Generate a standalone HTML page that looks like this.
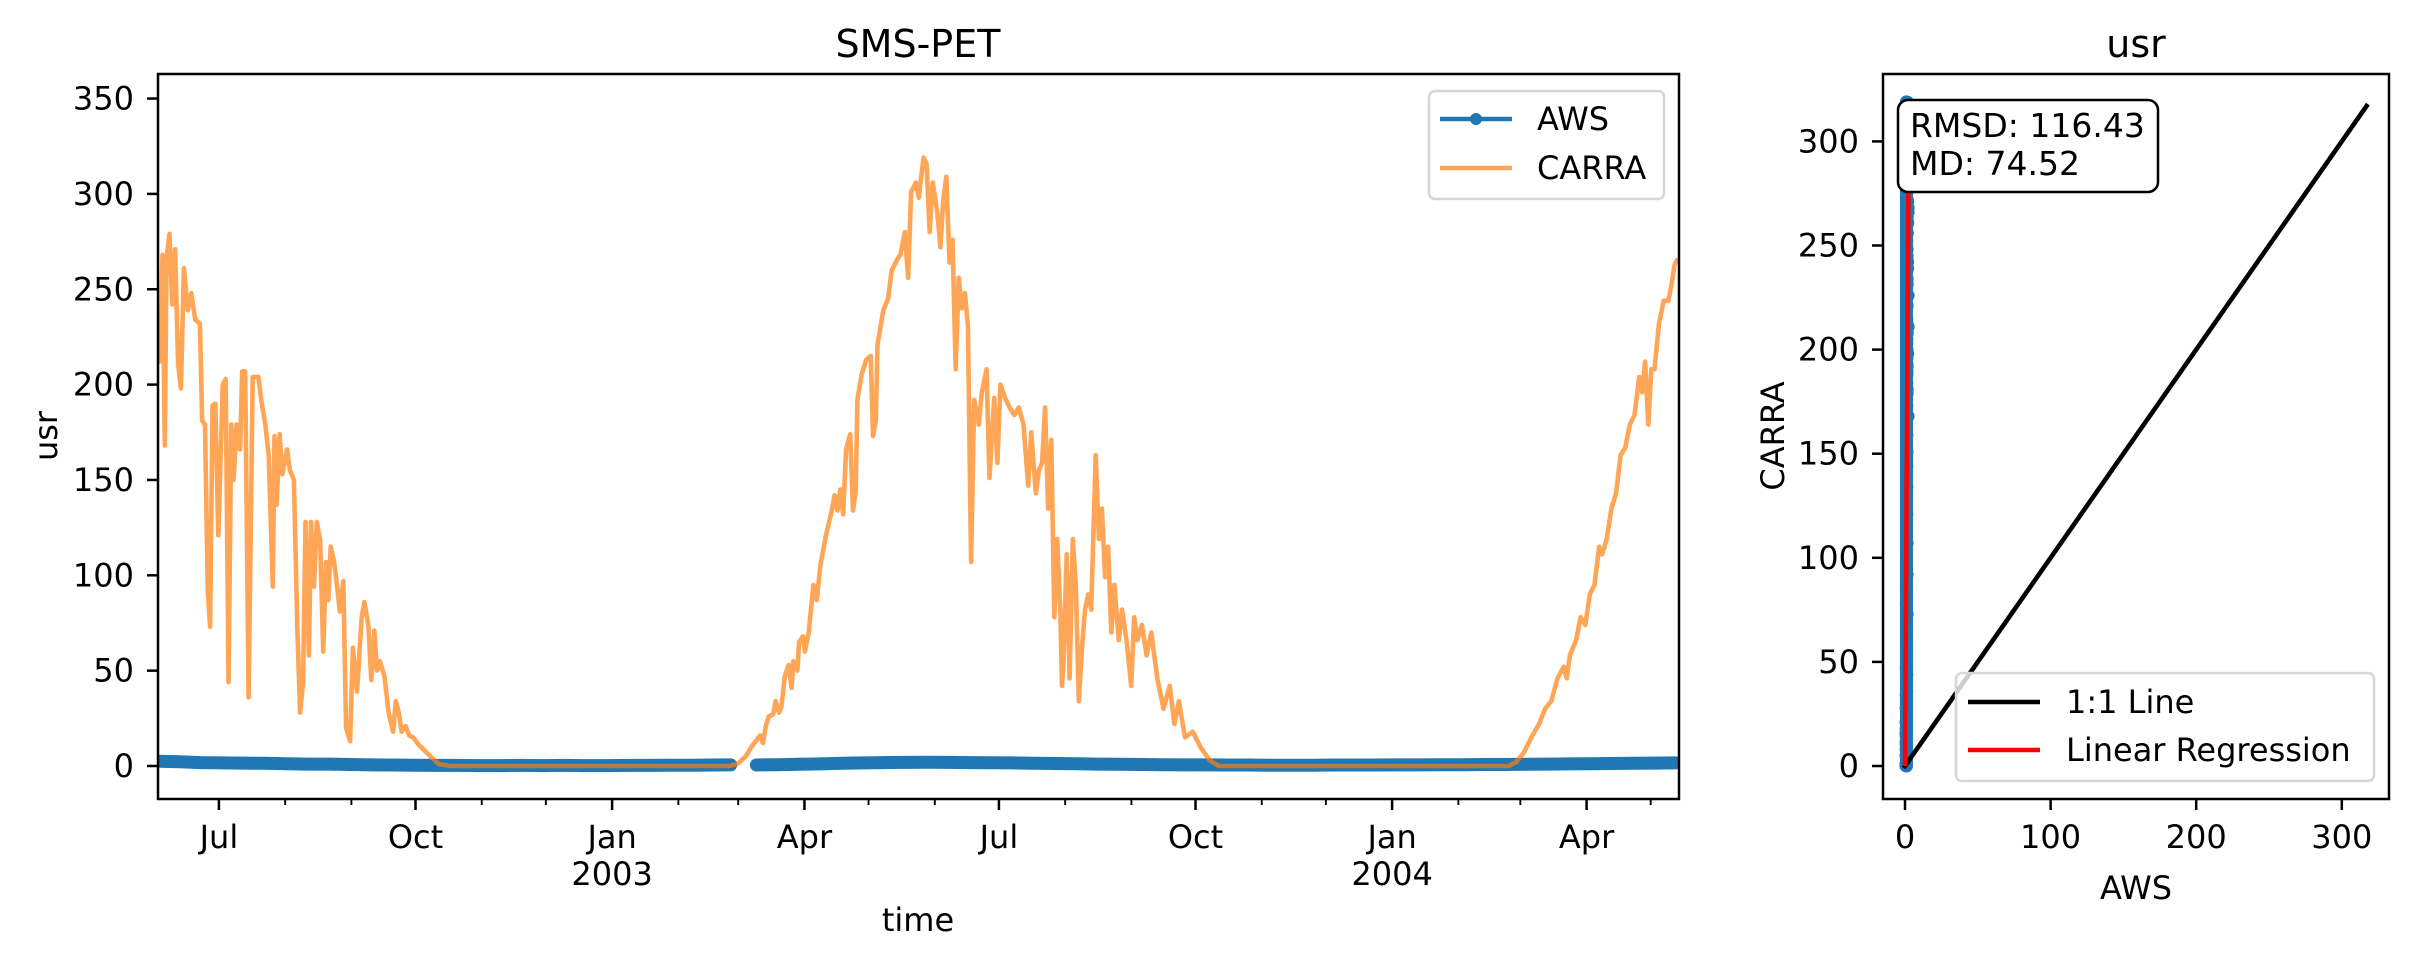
<!DOCTYPE html>
<html><head><meta charset="utf-8"><style>
html,body{margin:0;padding:0;background:#fff;}
svg text{font-family:"DejaVu Sans","Liberation Sans",sans-serif;fill:#000;}
</style></head><body>
<svg id="chart" width="2413" height="964" viewBox="0 0 2413 964" xmlns="http://www.w3.org/2000/svg">
<defs>
<clipPath id="clipL"><rect x="158" y="74" width="1521" height="725"/></clipPath>
<clipPath id="clipR"><rect x="1883" y="74" width="506" height="725"/></clipPath>
</defs>
<rect x="0" y="0" width="2413" height="964" fill="#fff"/>
<g id="left"></g>
<g id="right"></g>
</svg>
<script>
// ---- data ----
const carraDays = [0.5,1.3,2.1,3.2,4.0,5.4,6.7,8.0,9.4,10.7,12.1,14.0,15.6,17.4,19.6,20.7,22.0,23.3,24.4,25.5,26.8,28.2,30.3,31.7,33.0,34.3,35.4,36.8,38.4,39.4,40.8,42.4,44.3,47.0,48.3,50.2,51.8,53.7,54.5,55.5,56.9,58.2,60.4,61.7,63.6,65.2,66.5,67.9,69.0,70.6,71.6,73.0,74.3,75.9,77.3,78.6,79.7,80.8,82.4,83.7,85.1,86.7,88.0,89.9,91.2,93.1,95.3,96.6,98.5,99.8,101.2,102.5,103.8,106.0,107.9,110.0,111.3,112.7,114.0,115.9,117.5,119.4,122.1,124.8,127.5,131.5,136.8,267.0,271.0,275.0,277.7,280.4,281.7,283.1,284.4,285.8,287.9,289.0,290.6,291.7,293.3,295.1,296.5,297.3,299.2,300.0,301.8,302.7,304.5,306.7,308.3,309.9,312.6,315.3,316.6,317.9,319.3,320.6,322.0,323.9,325.2,326.5,327.3,329.2,331.4,333.5,334.6,335.9,336.7,339.4,341.6,343.4,346.1,347.4,349.5,351.0,352.4,354.6,356.0,358.2,359.6,361.1,362.5,364.7,366.1,367.5,368.9,370.4,371.8,373.3,374.7,376.2,377.6,379.0,380.5,381.9,384.1,385.5,387.7,389.1,391.3,392.8,394.2,396.4,398.5,400.7,402.8,405.0,407.2,408.6,410.8,412.2,413.7,415.1,416.5,418.0,419.4,420.8,422.3,423.0,423.7,425.2,426.6,428.1,429.5,430.9,432.4,433.8,435.3,436.7,438.8,440.3,441.7,443.2,444.6,446.1,447.5,449.6,451.1,453.2,455.4,456.8,458.3,460.4,462.6,464.8,467.6,470.5,473.4,475.6,477.7,480.6,484.2,487.8,492.1,496.5,631.9,635.5,639.1,642.7,646.3,649.1,652.0,654.9,657.8,659.2,660.7,663.6,665.7,667.9,670.0,672.2,674.4,675.8,677.9,680.1,682.3,684.4,686.6,688.7,690.9,693.1,694.5,695.9,697.4,698.8,700.3,702.4,704.6,706.8,708.2,709.7,711.1];
const carraValues = [211,226,268,168,266,279,242,271,211,198,261,239,248,234,232,181,179,92,73,189,190,121,200,203,44,179,150,179,166,207,207,36,204,204,192,179,163,94,173,137,174,153,166,155,150,73,28,44,128,58,128,94,128,118,60,107,87,115,107,95,81,97,20,13,62,39,78,86,73,45,71,50,55,47,28,18,34,28,18,21,16,15,11,8,5,1,0,0,1,5,10,14,16,12,21,26,27,34,28,31,47,53,41,55,50,65,68,60,70,95,87,105,121,134,142,134,145,132,166,174,134,144,192,205,213,215,173,181,221,239,245,260,266,268,280,256,301,306,298,319,316,280,306,290,272,297,309,264,276,208,256,240,248,231,107,192,179,196,208,151,193,159,200,193,188,184,188,179,147,175,143,155,159,188,135,171,78,119,78,42,54,111,46,119,95,34,62,82,90,82,163,119,135,99,115,70,95,66,82,66,42,78,66,74,58,70,46,30,42,22,34,15,18,10,3,0,0,2,7,15,22,30,34,46,52,46,58,66,78,74,90,95,115,111,119,135,143,163,167,179,184,204,196,212,179,208,208,232,244,244,252,263,266];
const awsDays = [0,10,20,30,40,50,60,70,80,90,100,110,120,130,140,150,160,170,180,190,200,210,220,230,240,250,260,268,280,290,300,310,320,330,340,350,360,370,380,390,400,410,420,430,440,450,460,470,480,490,500,510,520,530,540,550,560,570,580,590,600,610,620,630,640,650,660,670,680,690,700,710];
const awsValues = [2.5,2.2,1.8,1.6,1.5,1.4,1.2,1.0,1.0,0.8,0.6,0.5,0.4,0.3,0.3,0.2,0.2,0.3,0.2,0.3,0.2,0.2,0.3,0.3,0.4,0.4,0.5,0.6,0.5,0.7,0.9,1.1,1.4,1.6,1.8,1.9,2.0,1.9,1.8,1.7,1.6,1.4,1.3,1.2,1.0,0.9,0.8,0.7,0.6,0.6,0.5,0.5,0.4,0.4,0.4,0.5,0.5,0.5,0.6,0.6,0.7,0.7,0.8,0.8,0.9,1.0,1.1,1.2,1.3,1.4,1.5,1.6];
const yTicksLeft = [0,50,100,150,200,250,300,350];
const yTicksRight = [0,50,100,150,200,250,300];
const xTicksRight = [0,100,200,300];
const monthNames = ["Jan","Feb","Mar","Apr","May","Jun","Jul","Aug","Sep","Oct","Nov","Dec"];
const statRMSD = "116.43";
const statMD = "74.52";
const oneToOneMax = 317;
const regSlope = 120;
const regIntercept = 0;

// ---- helpers ----
const NS = "http://www.w3.org/2000/svg";
function mk(parent, tag, attrs, txt){
  const e = document.createElementNS(NS, tag);
  for (const k in attrs) e.setAttribute(k, attrs[k]);
  if (txt !== undefined) e.textContent = txt;
  parent.appendChild(e);
  return e;
}
const FS = 32;
const day0 = Date.UTC(2002,5,2,12);
const xL = d => 158 + d*2.137;
const yL = v => 766 - v*1.907;
const xR = v => 1905 + v*1.456;
const yR = v => 766 - v*2.082;

const L = document.getElementById('left');
const R = document.getElementById('right');

// ---- left panel ----
const gL = mk(L,'g',{'clip-path':'url(#clipL)'});


let seg = [];
const segs = [];
for (let i=0;i<awsDays.length;i++){
  if (i>0 && awsDays[i]-awsDays[i-1] > 11){ segs.push(seg); seg=[]; }
  seg.push(xL(awsDays[i]).toFixed(1)+','+yL(awsValues[i]).toFixed(1));
}
segs.push(seg);
segs.forEach(s=>{
  const band = mk(gL,'polyline',{points:s.join(' '),fill:'none',stroke:'#1f77b4','stroke-width':13,'stroke-linecap':'round','stroke-linejoin':'round'});
  
  
});
for (let i=0;i<awsDays.length;i++){
  const c = mk(gL,'circle',{cx:xL(awsDays[i]),cy:yL(awsValues[i]),r:6,fill:'#1f77b4'});
  
  
}
const cp = carraDays.map((d,i)=>xL(d).toFixed(1)+','+yL(carraValues[i]).toFixed(1)).join(' ');
const carraLine = mk(gL,'polyline',{points:cp,fill:'none',stroke:'#ff7f0e','stroke-opacity':0.7,'stroke-width':4.6,'stroke-linejoin':'round'});



const spL = mk(L,'rect',{x:158,y:74,width:1521,height:725,fill:'none',stroke:'#000','stroke-width':2.5});


yTicksLeft.forEach(v=>{
  const y = yL(v);
  const t = mk(L,'line',{x1:147,x2:158,y1:y,y2:y,stroke:'#000','stroke-width':2.5});
  
  
  const lb = mk(L,'text',{x:134,y:y+11,'font-size':FS,'text-anchor':'end'},String(v));
  
  
});
for (let y=2002;y<=2004;y++){
  for (let m=0;m<12;m++){
    const d = (Date.UTC(y,m,1)-day0)/864e5;
    if (d < 0 || d > 711.5) continue;
    const x = xL(d);
    const major = (m%3===0);
    const t = mk(L,'line',{x1:x,x2:x,y1:799,y2:major?810:805,stroke:'#000','stroke-width':major?2.5:1.9});
    
    
    if (major){
      const lb = mk(L,'text',{x:x,y:848,'font-size':FS,'text-anchor':'middle'},monthNames[m]);
      
      
      if (m===0){
        const yl = mk(L,'text',{x:x,y:885,'font-size':FS,'text-anchor':'middle'},String(y));
        
        
      }
    }
  }
}
const tL = mk(L,'text',{x:918,y:57,'font-size':38,'text-anchor':'middle'},'SMS-PET');


const xlab = mk(L,'text',{x:918,y:931,'font-size':FS,'text-anchor':'middle'},'time');


const ylab = mk(L,'text',{x:0,y:0,'font-size':FS,'text-anchor':'middle',transform:'translate(57,436) rotate(-90)'},'usr');


const lg = mk(L,'g',{});


mk(lg,'rect',{x:1429,y:91,width:235,height:108,rx:6,fill:'#fff','fill-opacity':0.8,stroke:'#d6d6d6','stroke-width':2.5});
const le1 = mk(lg,'g',{});


mk(le1,'line',{x1:1440,x2:1512,y1:119,y2:119,stroke:'#1f77b4','stroke-width':4.6});
mk(le1,'circle',{cx:1476,cy:119,r:6,fill:'#1f77b4'});
mk(le1,'text',{x:1537,y:130,'font-size':FS},'AWS');
const le2 = mk(lg,'g',{});


mk(le2,'line',{x1:1440,x2:1512,y1:168,y2:168,stroke:'#ff7f0e','stroke-opacity':0.7,'stroke-width':4.6});
mk(le2,'text',{x:1537,y:179,'font-size':FS},'CARRA');

// ---- right panel ----
const gR = mk(R,'g',{'clip-path':'url(#clipR)'});


function awsAt(d){
  let best=0;
  for (let j=1;j<awsDays.length;j++) if (Math.abs(awsDays[j]-d)<Math.abs(awsDays[best]-d)) best=j;
  return awsValues[best];
}
const bandPts = carraDays.map((d,i)=>({x:xR(awsAt(d)),y:yR(carraValues[i])}));
const minY = Math.min(...bandPts.map(p=>p.y));
const sb = mk(gR,'line',{x1:xR(1.0),x2:xR(1.0),y1:yR(0),y2:minY,stroke:'#1f77b4','stroke-width':13,'stroke-linecap':'round'});


carraDays.forEach((d,i)=>{
  const c = mk(gR,'circle',{cx:xR(awsAt(d)),cy:yR(carraValues[i]),r:6,fill:'#1f77b4'});
  
  
});
const one = mk(gR,'line',{x1:xR(0),y1:yR(0),x2:xR(oneToOneMax),y2:yR(oneToOneMax),stroke:'#000','stroke-width':4.6,'stroke-linecap':'square'});


const awsMax = Math.max(...awsValues);
const reg = mk(gR,'line',{x1:xR(0),y1:yR(regIntercept),x2:xR(awsMax),y2:yR(regIntercept+regSlope*awsMax),stroke:'#ff0000','stroke-width':4.6});


const spR = mk(R,'rect',{x:1883,y:74,width:506,height:725,fill:'none',stroke:'#000','stroke-width':2.5});


yTicksRight.forEach(v=>{
  const y = yR(v);
  const t = mk(R,'line',{x1:1872,x2:1883,y1:y,y2:y,stroke:'#000','stroke-width':2.5});
  
  
  const lb = mk(R,'text',{x:1859,y:y+11,'font-size':FS,'text-anchor':'end'},String(v));
  
  
});
xTicksRight.forEach(v=>{
  const x = xR(v);
  const t = mk(R,'line',{x1:x,x2:x,y1:799,y2:810,stroke:'#000','stroke-width':2.5});
  
  
  const lb = mk(R,'text',{x:x,y:848,'font-size':FS,'text-anchor':'middle'},String(v));
  
  
});
const tR = mk(R,'text',{x:2136,y:57,'font-size':38,'text-anchor':'middle'},'usr');


const xlR = mk(R,'text',{x:2136,y:899,'font-size':FS,'text-anchor':'middle'},'AWS');


const ylR = mk(R,'text',{x:0,y:0,'font-size':FS,'text-anchor':'middle',transform:'translate(1784,436) rotate(-90)'},'CARRA');


const sbx = mk(R,'g',{});


mk(sbx,'rect',{x:1898,y:100,width:260,height:92,rx:10,fill:'#fff',stroke:'#000','stroke-width':2.5});
mk(sbx,'text',{x:1910,y:137,'font-size':33},'RMSD: '+statRMSD);
mk(sbx,'text',{x:1910,y:175,'font-size':33},'MD: '+statMD);
const lg2 = mk(R,'g',{});


mk(lg2,'rect',{x:1956,y:673,width:418,height:108,rx:6,fill:'#fff','fill-opacity':0.8,stroke:'#d6d6d6','stroke-width':2.5});
const se1 = mk(lg2,'g',{});


mk(se1,'line',{x1:1968,x2:2040,y1:702,y2:702,stroke:'#000','stroke-width':4.6});
mk(se1,'text',{x:2066,y:713,'font-size':FS},'1:1 Line');
const se2 = mk(lg2,'g',{});


mk(se2,'line',{x1:1968,x2:2040,y1:750,y2:750,stroke:'#ff0000','stroke-width':4.6});
mk(se2,'text',{x:2066,y:761,'font-size':FS},'Linear Regression');
</script>
</body></html>
